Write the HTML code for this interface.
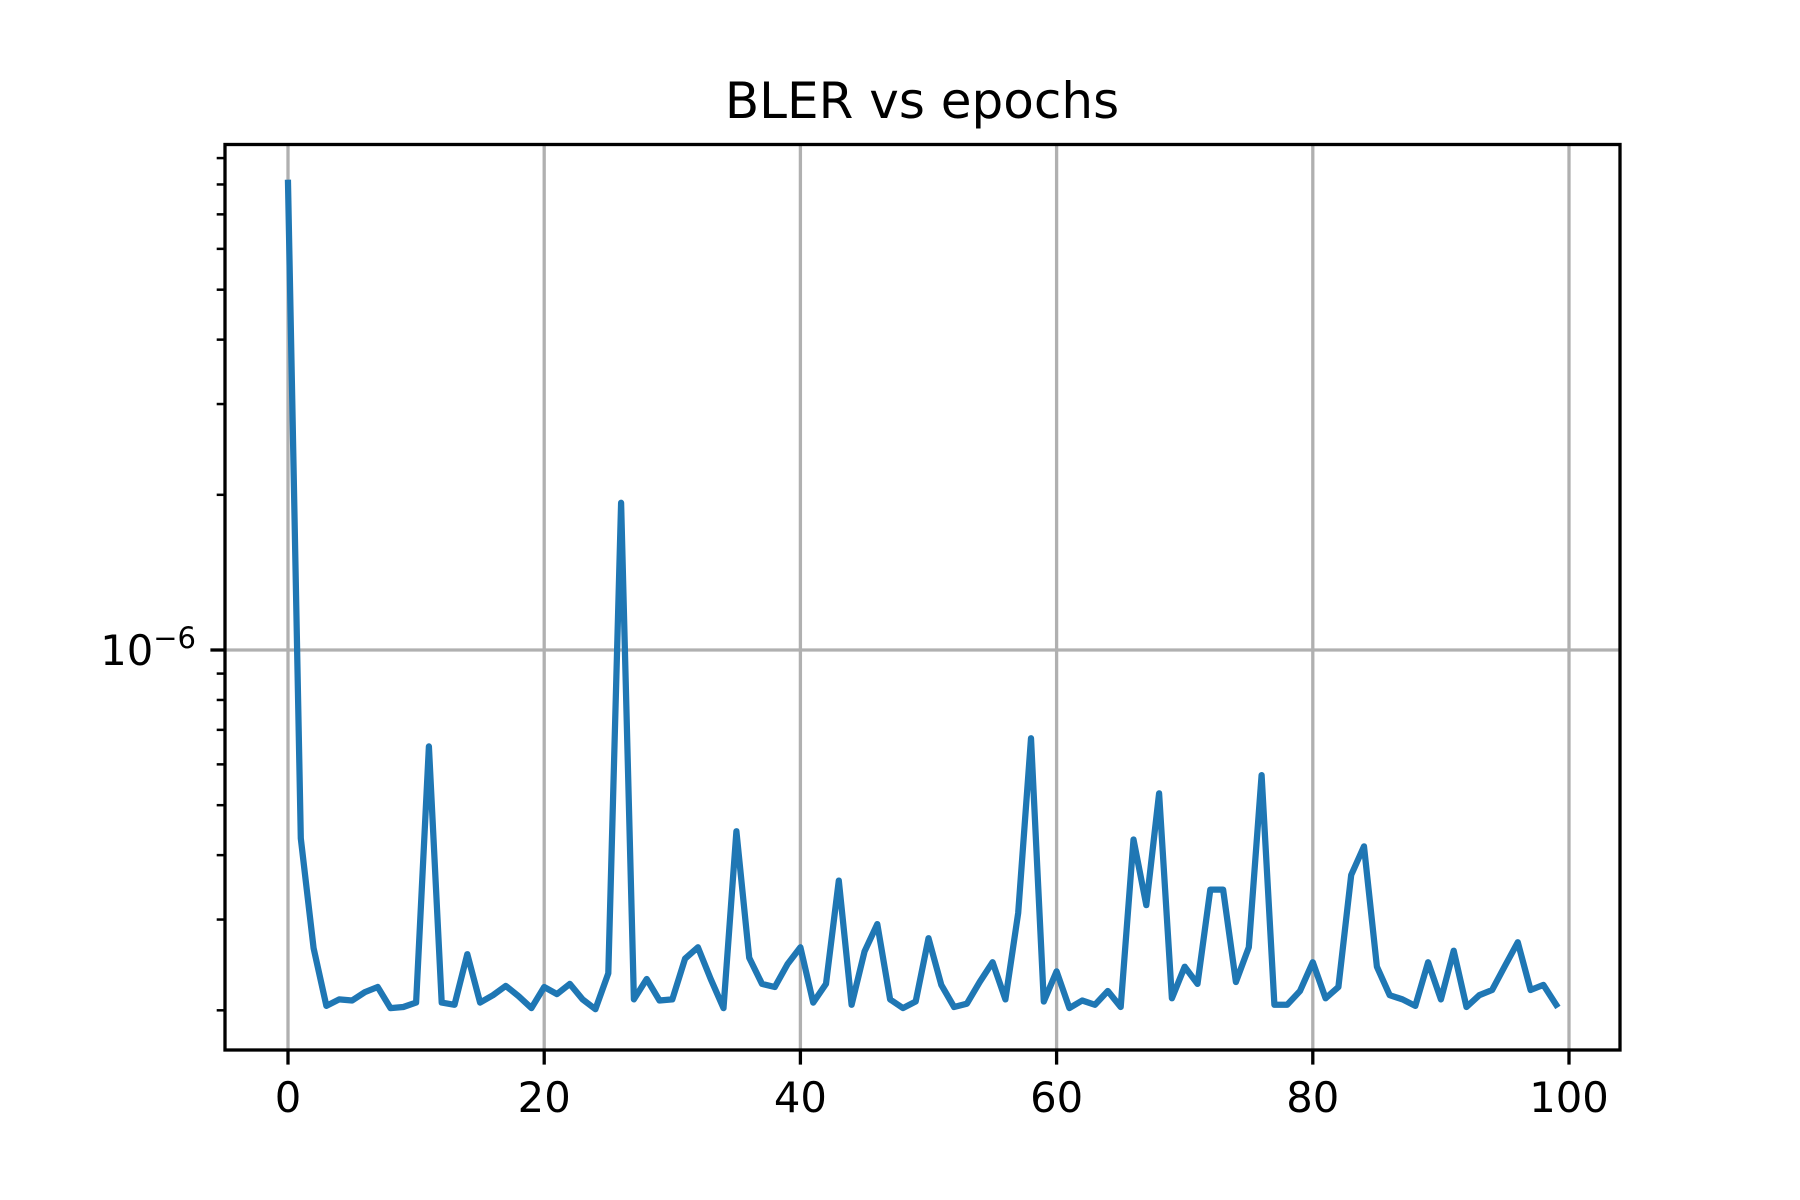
<!DOCTYPE html>
<html><head><meta charset="utf-8"><style>
html,body{margin:0;padding:0;background:#fff}
svg{display:block;font-family:"DejaVu Sans","Liberation Sans",sans-serif}
</style></head><body>
<svg id="chart" width="1800" height="1200" viewBox="0 0 1800 1200" xmlns="http://www.w3.org/2000/svg">
<rect x="0" y="0" width="1800" height="1200" fill="#fff"/>
<text x="922" y="118" font-size="50" text-anchor="middle" fill="#000">BLER vs epochs</text>
<g id="grid"></g>
<g id="series"></g>
<g id="axes"></g>
</svg>
<script>
// BLER values in units of 1e-7, epochs 0..99
const epochs = Array.from({length:100},(_,i)=>i);
const blerE7 = [80.6,4.31,2.64,2.04,2.10,2.09,2.17,2.22,2.02,2.03,
2.07,6.50,2.07,2.05,2.57,2.07,2.14,2.23,2.13,2.02,
2.22,2.15,2.25,2.10,2.01,2.36,19.3,2.10,2.30,2.09,
2.10,2.52,2.65,2.30,2.02,4.45,2.53,2.25,2.22,2.46,
2.65,2.07,2.25,3.57,2.05,2.60,2.94,2.10,2.02,2.08,
2.76,2.24,2.03,2.06,2.27,2.48,2.10,3.09,6.74,2.08,
2.38,2.02,2.09,2.05,2.18,2.03,4.29,3.20,5.27,2.11,
2.43,2.25,3.43,3.43,2.27,2.65,5.72,2.05,2.05,2.18,
2.48,2.11,2.22,3.66,4.16,2.43,2.14,2.10,2.04,2.48,
2.10,2.61,2.03,2.14,2.19,2.44,2.71,2.19,2.24,2.05];
const xTicks = [0,20,40,60,80,100];
const yMajorTicks = [-6];
const yMinorTicks = [2e-7,3e-7,4e-7,5e-7,6e-7,7e-7,8e-7,9e-7,2e-6,3e-6,4e-6,5e-6,6e-6,7e-6,8e-6,9e-6];

const L=225,R=1620,T=144.5,B=1050;
const x0=288, xPer=(1569-288)/100;
const yRef=650, decade=515.5;
function xs(v){return x0+v*xPer;}
function ys(v){return yRef-(Math.log10(v)+6)*decade;}
const NS="http://www.w3.org/2000/svg";
function mk(tag,attrs,parent){const e=document.createElementNS(NS,tag);for(const k in attrs)e.setAttribute(k,attrs[k]);parent.appendChild(e);return e;}
const grid=document.getElementById('grid'),axes=document.getElementById('axes'),series=document.getElementById('series');

xTicks.forEach(t=>{
  const X=xs(t);
  const g=mk('line',{x1:X,x2:X,y1:T,y2:B,stroke:'#b0b0b0','stroke-width':3.3},grid);
  
  
  const tk=mk('line',{x1:X,x2:X,y1:B,y2:B+14.6,stroke:'#000','stroke-width':3.3},axes);
  
  
  const lb=mk('text',{x:X,y:B+62,'font-size':41.7,'text-anchor':'middle',fill:'#000'},axes);
  lb.textContent=String(t);
  
  
});
yMajorTicks.forEach(p=>{
  const Y=ys(Math.pow(10,p));
  const g=mk('line',{x1:L,x2:R,y1:Y,y2:Y,stroke:'#b0b0b0','stroke-width':3.3},grid);
  
  
  const tk=mk('line',{x1:L-14.6,x2:L,y1:Y,y2:Y,stroke:'#000','stroke-width':3.3},axes);
  
  
  const lb=mk('text',{x:L-29,y:Y+15,'font-size':41.7,'text-anchor':'end',fill:'#000'},axes);
  lb.innerHTML='10<tspan dy="-17" font-size="29">−6</tspan>';
  
  
});
yMinorTicks.forEach(v=>{
  const Y=ys(v);
  if(Y<T||Y>B)return;
  const tk=mk('line',{x1:L-8.3,x2:L,y1:Y,y2:Y,stroke:'#000','stroke-width':2.5},axes);
  
  
});
const pts=epochs.map((e,i)=>xs(e).toFixed(1)+','+ys(blerE7[i]*1e-7).toFixed(1)).join(' ');
const line=mk('polyline',{points:pts,fill:'none',stroke:'#1f77b4','stroke-width':6.25,'stroke-linejoin':'round','stroke-linecap':'square'},series);


const frame=mk('rect',{x:L,y:T,width:R-L,height:B-T,fill:'none',stroke:'#000','stroke-width':3.3},axes);


</script>
</body></html>
